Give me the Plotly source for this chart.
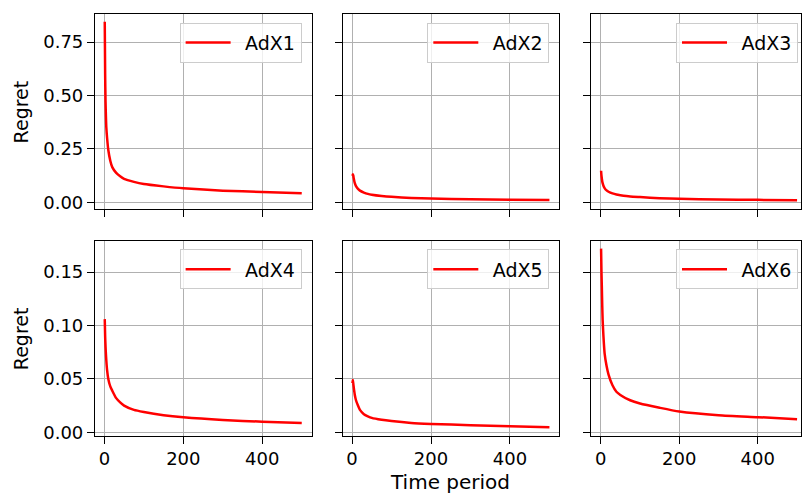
import plotly.graph_objects as go

# ---- data ----
t = [1, 2, 3, 4, 5, 7, 10, 15, 20, 30, 40, 50, 75, 100, 150, 200, 300, 400, 500]
adx1 = [0.845, 0.60, 0.47, 0.40, 0.35, 0.30, 0.245, 0.195, 0.165, 0.138, 0.122, 0.110,
        0.096, 0.086, 0.075, 0.066, 0.055, 0.049, 0.043]
adx2 = [0.125, 0.132, 0.127, 0.115, 0.106, 0.090, 0.076, 0.063, 0.055, 0.046, 0.040, 0.036,
        0.030, 0.026, 0.021, 0.018, 0.015, 0.013, 0.011]
adx3 = [0.148, 0.125, 0.110, 0.098, 0.090, 0.078, 0.067, 0.056, 0.050, 0.042, 0.037, 0.034,
        0.028, 0.025, 0.020, 0.017, 0.014, 0.012, 0.010]
adx4 = [0.106, 0.090, 0.080, 0.073, 0.067, 0.058, 0.050, 0.043, 0.039, 0.032, 0.028, 0.025,
        0.021, 0.019, 0.016, 0.014, 0.0115, 0.010, 0.0088]
adx5 = [0.046, 0.049, 0.046, 0.043, 0.040, 0.035, 0.030, 0.025, 0.021, 0.017, 0.015, 0.0135,
        0.0117, 0.0105, 0.0088, 0.0079, 0.0066, 0.0057, 0.0048]
adx6 = [0.172, 0.150, 0.135, 0.118, 0.105, 0.090, 0.074, 0.062, 0.054, 0.044, 0.038, 0.035,
        0.030, 0.027, 0.023, 0.0195, 0.016, 0.0142, 0.0123]
names = ["AdX1", "AdX2", "AdX3", "AdX4", "AdX5", "AdX6"]
series = [adx1, adx2, adx3, adx4, adx5, adx6]
x_ticks = [0, 200, 400]
y_ticks_row = [[0, 0.25, 0.5, 0.75], [0, 0.05, 0.10, 0.15]]

# ---- layout geometry ----
W, H = 802, 502
col_px = [(95, 312), (343, 560), (592, 802)]
col_legend_right = [302, 550, 799]
row_px = [(14, 212), (244, 442)]
xranges = [[-24, 525], [-24, 525], [-24, 510]]
yranges = [[-0.031, 0.882], [-0.0033, 0.1795]]
FONT = "DejaVu Sans"

fig = go.Figure()
layout = dict(
    width=W, height=H, autosize=False,
    margin=dict(l=0, r=0, t=0, b=0),
    paper_bgcolor="white", plot_bgcolor="white",
    font=dict(family=FONT, color="black", size=18),
    annotations=[],
)

axis_common = dict(
    showline=True, mirror=True, linecolor="black", linewidth=1,
    ticks="outside", ticklen=7, tickwidth=1, tickcolor="black",
    showgrid=True, gridcolor="#b0b0b0", gridwidth=1, zeroline=False,
    tickfont=dict(family=FONT, size=18, color="black"),
)

for i, (name, vals) in enumerate(zip(names, series)):
    r, c = divmod(i, 3)
    k = i + 1
    xa = "x" if k == 1 else f"x{k}"
    ya = "y" if k == 1 else f"y{k}"
    lg = "legend" if k == 1 else f"legend{k}"
    fig.add_trace(go.Scatter(x=t, y=vals, mode="lines", name="\u2002" + name,
                             line=dict(color="red", width=2.5, shape="spline", smoothing=0.6),
                             xaxis=xa, yaxis=ya, legend=lg, showlegend=True))
    x0, x1 = col_px[c]
    y0, y1 = row_px[r]
    xkey = "xaxis" if k == 1 else f"xaxis{k}"
    ykey = "yaxis" if k == 1 else f"yaxis{k}"
    layout[xkey] = dict(axis_common, domain=[x0 / W, x1 / W], range=xranges[c],
                        anchor=ya, tickvals=x_ticks,
                        ticktext=[str(v) for v in x_ticks],
                        showticklabels=(r == 1))
    layout[ykey] = dict(axis_common, domain=[1 - y1 / H, 1 - y0 / H], range=yranges[r],
                        anchor=xa, tickvals=y_ticks_row[r], tickformat=".2f",
                        showticklabels=(c == 0))
    layout[lg] = dict(
        x=col_legend_right[c] / W, y=1 - (y0 + 9) / H,
        xanchor="right", yanchor="top",
        bgcolor="rgba(255,255,255,0.8)", bordercolor="#cccccc", borderwidth=1,
        itemwidth=45,
        font=dict(family=FONT, size=19, color="black"),
    )

for r in range(2):
    yc = (row_px[r][0] + row_px[r][1]) / 2
    layout["annotations"].append(dict(
        text="Regret", x=21 / W, y=1 - yc / H, xref="paper", yref="paper",
        showarrow=False, textangle=-90, xanchor="center", yanchor="middle",
        font=dict(family=FONT, size=19, color="black")))
layout["annotations"].append(dict(
    text="Time period", x=451 / W, y=1 - 489 / H, xref="paper", yref="paper",
    showarrow=False, xanchor="center", yanchor="middle",
    font=dict(family=FONT, size=20, color="black")))

fig.update_layout(**layout)
fig.write_html("out.html")
